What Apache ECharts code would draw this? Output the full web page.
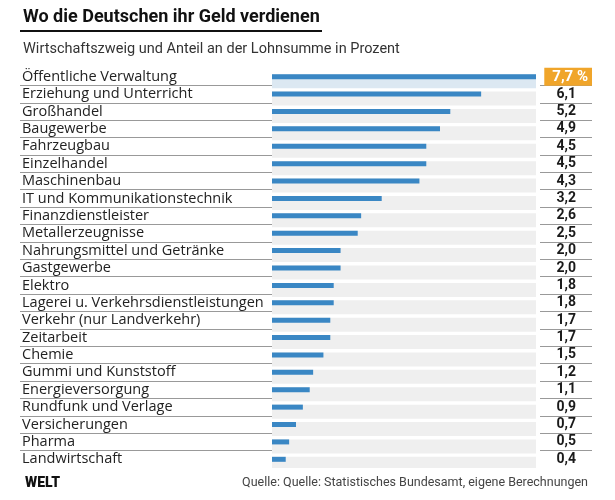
<!DOCTYPE html>
<html><head><meta charset="utf-8">
<script src="https://cdn.jsdelivr.net/npm/echarts@6/dist/echarts.min.js"></script>
<style>html,body{margin:0;padding:0;background:#fff}#c{width:615px;height:500px}</style>
</head><body><div id="c"></div>
<script>
const categories = ["Öffentliche Verwaltung","Erziehung und Unterricht","Großhandel","Baugewerbe","Fahrzeugbau","Einzelhandel","Maschinenbau","IT und Kommunikationstechnik","Finanzdienstleister","Metallerzeugnisse","Nahrungsmittel und Getränke","Gastgewerbe","Elektro","Lagerei u. Verkehrsdienstleistungen","Verkehr (nur Landverkehr)","Zeitarbeit","Chemie","Gummi und Kunststoff","Energieversorgung","Rundfunk und Verlage","Versicherungen","Pharma","Landwirtschaft"];
const values = [7.7,6.1,5.2,4.9,4.5,4.5,4.3,3.2,2.6,2.5,2.0,2.0,1.8,1.8,1.7,1.7,1.5,1.2,1.1,0.9,0.7,0.5,0.4];

const FONT = "Roboto";
const maxV = Math.max(...values);
const fmt = v => v.toFixed(1).replace('.', ',');
const valueLabels = values.map((v,i) => i === 0 ? '{b|' + fmt(v) + ' %}' : '{v|' + fmt(v) + '}');
const gTop = 68, gHeight = 400;

const chart = echarts.init(document.getElementById('c'), null, {renderer:'canvas'});
const catAxisBase = {type:'category', inverse:true, axisLine:{show:false}, axisTick:{show:false}};
const sepLine = {show:true, interval:0, showMinLine:false, showMaxLine:false, lineStyle:{color:'#999', width:1}};
chart.setOption({
  animation:false,
  textStyle:{fontFamily:FONT},
  title:[
    {text:'Wo die Deutschen ihr Geld verdienen', left:18, top:3, textStyle:{fontFamily:FONT, fontSize:18, fontWeight:'bold', color:'#111'}},
    {text:'Wirtschaftszweig und Anteil an der Lohnsumme in Prozent', left:18, top:37, textStyle:{fontFamily:FONT, fontSize:14.5, fontWeight:'normal', color:'#333'}},
    {text:'WELT', left:20, top:471, textStyle:{fontFamily:FONT, fontSize:14, fontWeight:900, color:'#111'}},
    {text:'Quelle: Quelle: Statistisches Bundesamt, eigene Berechnungen', right:22, top:471, textStyle:{fontFamily:FONT, fontSize:12.5, fontWeight:'normal', color:'#444'}}
  ],
  graphic:[{type:'rect', shape:{x:20, y:30, width:302, height:2}, style:{fill:'#111'}}],
  grid:[
    {left:272, width:264, top:gTop, height:gHeight},
    {left:20, width:252, top:gTop, height:gHeight},
    {left:540, width:52, top:gTop, height:gHeight}
  ],
  xAxis:[
    {gridIndex:0, type:'value', min:0, max:maxV, show:false},
    {gridIndex:1, type:'value', min:0, max:1, show:false},
    {gridIndex:2, type:'value', min:0, max:1, show:false}
  ],
  yAxis:[
    Object.assign({}, catAxisBase, {gridIndex:0, data:categories, axisLabel:{show:false}}),
    Object.assign({}, catAxisBase, {gridIndex:1, data:categories, splitLine:sepLine,
      axisLabel:{interval:0, align:'left', margin:-2, color:'#222', fontSize:14.5, fontFamily:'Open Sans'}}),
    Object.assign({}, catAxisBase, {gridIndex:2, position:'right', data:valueLabels, splitLine:sepLine,
      axisLabel:{interval:0, align:'right', margin:0, rich:{
        v:{fontSize:14, fontWeight:'bold', color:'#1a1a1a', fontFamily:FONT, padding:[0,16,0,0]},
        b:{fontSize:15, fontWeight:'bold', color:'#fff', fontFamily:FONT, backgroundColor:'#f0a52a', padding:[2,4,1,8]}
      }}})
  ],
  series:[
    {type:'bar', xAxisIndex:0, yAxisIndex:0, barWidth:14, silent:true,
     data: values.map((v,i)=>({value:maxV, itemStyle:{color: i===0 ? '#dce8f2' : '#efefef'}}))},
    {type:'bar', xAxisIndex:0, yAxisIndex:0, barWidth:5, barGap:'-100%', silent:true,
     itemStyle:{color:'#3a87c4'}, data: values},
    {type:'bar', xAxisIndex:1, yAxisIndex:1, data:[]},
    {type:'bar', xAxisIndex:2, yAxisIndex:2, data:[]}
  ]
});
</script></body></html>
